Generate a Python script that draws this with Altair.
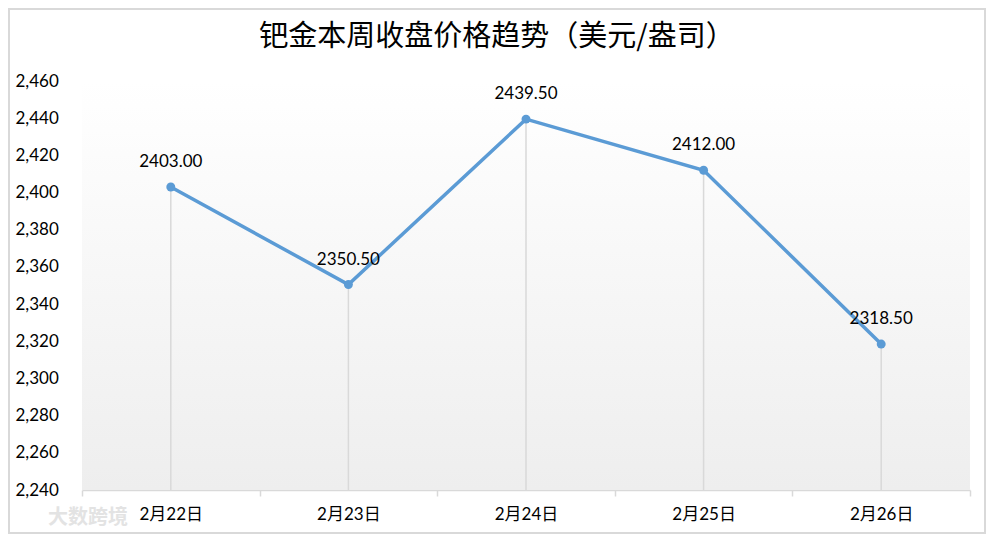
import altair as alt
import pandas as pd

dates = ["2月22日", "2月23日", "2月24日", "2月25日", "2月26日"]
prices = [2403.00, 2350.50, 2439.50, 2412.00, 2318.50]
y_ticks = [2240, 2260, 2280, 2300, 2320, 2340, 2360, 2380, 2400, 2420, 2440, 2460]
title_text = "钯金本周收盘价格趋势（美元/盎司）"
watermark = "大数跨境"

df = pd.DataFrame({"date": dates, "price": prices, "base": [y_ticks[0]] * len(dates)})
one = pd.DataFrame({"t": [title_text], "w": [watermark]})

W, H = 888, 409
FONT = "Lato, 'Noto Sans CJK SC', sans-serif"
BLUE = "#5b9bd5"

x_enc = alt.X(
    "date:O",
    sort=dates,
    bandPosition=0.5,
    scale=alt.Scale(type="band", paddingInner=0, paddingOuter=0),
    axis=alt.Axis(
        title=None, labelAngle=0, labelFont=FONT, labelFontSize=17, labelColor="#000000",
        domainColor="#d9d9d9", domainWidth=1.5, tickColor="#d9d9d9", tickWidth=1.5,
        tickSize=6, tickBand="extent", labelPadding=10, grid=False,
    ),
)
y_enc = alt.Y(
    "price:Q",
    scale=alt.Scale(domain=[2240, 2460], nice=False, zero=False),
    axis=alt.Axis(
        title=None, values=y_ticks, format=",.0f", labelFont=FONT, labelFontSize=17,
        labelColor="#000000", domain=False, ticks=False, tickSize=0, grid=False,
        labelAlign="left", labelPadding=67,
    ),
)

base = alt.Chart(df)

bg = alt.Chart(one).mark_rect(
    color=alt.LinearGradient(
        gradient="linear", x1=0, y1=0, x2=0, y2=1,
        stops=[alt.GradientStop(offset=0, color="#ffffff"),
               alt.GradientStop(offset=1, color="#eeeeee")],
    )
).encode(x=alt.value(0), x2=alt.value(W), y=alt.value(0), y2=alt.value(H))

border = alt.Chart(one).mark_rect(
    fill="transparent", stroke="#d9d9d9", strokeWidth=2
).encode(x=alt.value(-73), x2=alt.value(W + 15), y=alt.value(-72), y2=alt.value(H + 43))

drops = base.mark_rule(color="#d9d9d9", strokeWidth=1.5).encode(
    x=x_enc, y=y_enc, y2="base:Q"
)
line = base.mark_line(color=BLUE, strokeWidth=3.5).encode(x=x_enc, y=y_enc)
pts = base.mark_circle(color=BLUE, size=80, opacity=1).encode(x=x_enc, y=y_enc)
labels = base.mark_text(
    font=FONT, fontSize=17, color="#000000", baseline="middle", align="center", dy=-25
).encode(x=x_enc, y=y_enc, text=alt.Text("price:Q", format=".2f"))

title = alt.Chart(one).mark_text(
    font="'Noto Sans CJK SC', sans-serif", fontSize=29, color="#000000",
    baseline="middle", align="center",
).encode(x=alt.value(415), y=alt.value(-44), text="t:N")

wm = alt.Chart(one).mark_text(
    font="'Noto Sans CJK SC', sans-serif", fontSize=20, fontWeight="bold", color="#e3e3e3",
    baseline="middle", align="left",
).encode(x=alt.value(-34), y=alt.value(437), text="w:N")

chart = alt.layer(bg, border, drops, line, pts, labels, title, wm).properties(
    width=W, height=H,
    autosize=alt.AutoSizeParams(type="none"),
    padding={"left": 74, "top": 73, "right": 16, "bottom": 44},
    background="#ffffff",
).configure_view(strokeWidth=0)

chart.save("out.html", embed_options={"renderer": "svg", "actions": False})
